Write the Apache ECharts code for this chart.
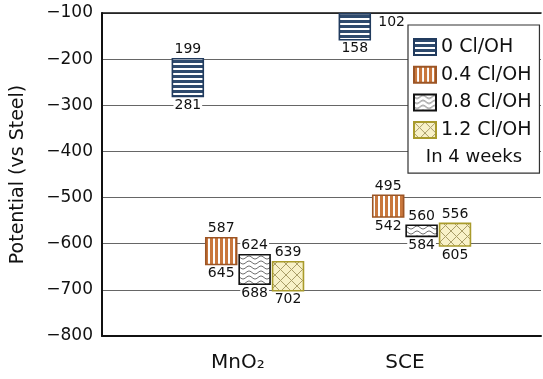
<!DOCTYPE html>
<html>
<head>
<meta charset="utf-8">
<script src="https://cdn.jsdelivr.net/npm/echarts@6/dist/echarts.min.js"></script>
<style>
html,body{margin:0;padding:0;background:#fff;}
#chart{width:543px;height:379px;}
</style>
</head>
<body>
<div id="chart"></div>
<script>
// ---- data ----
const categories = ['MnO₂', 'SCE'];
const seriesNames = ['0 Cl/OH', '0.4 Cl/OH', '0.8 Cl/OH', '1.2 Cl/OH'];
const top00 = [-199, -102];   // 0 Cl/OH, upper end
const bot00 = [-281, -158];   // 0 Cl/OH, lower end
const top04 = [-587, -495];
const bot04 = [-645, -542];
const top08 = [-624, -560];
const bot08 = [-688, -584];
const top12 = [-639, -556];
const bot12 = [-702, -605];
const yMin = -800, yMax = -100, yStep = 100;
const noteText = 'In 4 weeks';
const yTitle = 'Potential (vs Steel)';

const FONT = 'DejaVu Sans';

function makeCanvas(w, h, draw) {
  const c = document.createElement('canvas');
  c.width = w; c.height = h;
  draw(c.getContext('2d'));
  return c;
}
const patHoriz = makeCanvas(6, 5, ctx => {
  ctx.fillStyle = '#ffffff'; ctx.fillRect(0, 0, 6, 5);
  ctx.fillStyle = '#2e4a6d'; ctx.fillRect(0, 0, 6, 3);
});
const patVert = makeCanvas(5, 6, ctx => {
  ctx.fillStyle = '#ffffff'; ctx.fillRect(0, 0, 5, 6);
  ctx.fillStyle = '#c9773c'; ctx.fillRect(0, 0, 3, 6);
});
const patWave = makeCanvas(12, 5, ctx => {
  ctx.fillStyle = '#ffffff'; ctx.fillRect(0, 0, 12, 5);
  ctx.strokeStyle = '#6f6f6f'; ctx.lineWidth = 1;
  ctx.beginPath();
  for (let i = 0; i <= 12; i++) {
    const yy = 2.5 + 1.5 * Math.sin(i / 12 * Math.PI * 2);
    if (i === 0) ctx.moveTo(i, yy); else ctx.lineTo(i, yy);
  }
  ctx.stroke();
});
const patCross = makeCanvas(11, 11, ctx => {
  ctx.fillStyle = '#f8f1c8'; ctx.fillRect(0, 0, 11, 11);
  ctx.strokeStyle = '#a99d68'; ctx.lineWidth = 1;
  ctx.beginPath();
  ctx.moveTo(0, 0); ctx.lineTo(11, 11);
  ctx.moveTo(11, 0); ctx.lineTo(0, 11);
  ctx.stroke();
});

const fills = [
  { image: patHoriz, repeat: 'repeat' },
  { image: patVert, repeat: 'repeat' },
  { image: patWave, repeat: 'repeat' },
  { image: patCross, repeat: 'repeat' }
];
const borders = ['#213b5e', '#9c5525', '#111111', '#a99b2c'];
const tops = [top00, top04, top08, top12];
const bots = [bot00, bot04, bot08, bot12];

function renderItem(params, api) {
  const si = params.seriesIndex;
  const x = api.value(0);
  const t = api.value(1), b = api.value(2);
  const pT = api.coord([x, t]);
  const pB = api.coord([x, b]);
  const unit = api.size([1, 0])[0];
  const cx = pT[0] + (si - 1.5) * 0.2 * unit;
  const w = 0.185 * unit;
  const gridTop = params.coordSys.y;
  const children = [{
    type: 'rect',
    shape: { x: cx - w / 2, y: pT[1], width: w, height: pB[1] - pT[1] },
    style: { fill: fills[si], stroke: borders[si], lineWidth: 1.6 }
  }];
  const labStyle = { font: '14px "' + FONT + '"', fill: '#111', backgroundColor: '#fff', padding: [0, 1] };
  if (pT[1] - 16 < gridTop) {
    children.push({ type: 'text', z2: 5, style: Object.assign({}, labStyle, { text: String(-t), x: cx + w / 2 + 7, y: pT[1] + 1, align: 'left', verticalAlign: 'top' }) });
  } else {
    children.push({ type: 'text', z2: 5, style: Object.assign({}, labStyle, { text: String(-t), x: cx, y: pT[1] - 2, align: 'center', verticalAlign: 'bottom' }) });
  }
  children.push({ type: 'text', z2: 5, style: Object.assign({}, labStyle, { text: String(-b), x: cx, y: pB[1] + 2, align: 'center', verticalAlign: 'top' }) });
  return { type: 'group', children };
}

const series = seriesNames.map((name, si) => ({
  name,
  type: 'custom',
  renderItem,
  xAxisIndex: 0,
  yAxisIndex: 0,
  encode: { x: 0, y: [1, 2] },
  itemStyle: { color: fills[si], borderColor: borders[si], borderWidth: 1.6 },
  data: categories.map((c, ci) => [ci, tops[si][ci], bots[si][ci]]),
  z: 3
}));

const chart = echarts.init(document.getElementById('chart'), null, { renderer: 'canvas' });
chart.setOption({
  backgroundColor: '#fff',
  animation: false,
  textStyle: { fontFamily: FONT },
  grid: { left: 102, right: 2, top: 13, bottom: 43, containLabel: false },
  xAxis: [{
    type: 'value',
    min: -0.814, max: 1.815,
    axisLine: { show: true, onZero: false, lineStyle: { color: '#111', width: 2 } },
    axisTick: { show: false },
    splitLine: { show: false },
    axisLabel: {
      customValues: [0, 1],
      formatter: v => categories[Math.round(v)],
      fontFamily: FONT, fontSize: 20, color: '#111', margin: 17
    }
  }, {
    type: 'value',
    position: 'top',
    min: -0.814, max: 1.815,
    axisLine: { show: true, onZero: false, lineStyle: { color: '#111', width: 1.6 } },
    axisTick: { show: false },
    splitLine: { show: false },
    axisLabel: { show: false }
  }],
  yAxis: {
    type: 'value',
    min: yMin, max: yMax, interval: yStep,
    name: yTitle,
    nameLocation: 'middle',
    nameGap: 74,
    nameTextStyle: { fontFamily: FONT, fontSize: 19, color: '#111' },
    axisLine: { show: true, onZero: false, lineStyle: { color: '#111', width: 2 } },
    axisTick: { show: false },
    splitLine: { show: true, lineStyle: { color: '#666', width: 1.2 } },
    axisLabel: {
      formatter: v => String(v).replace('-', '−'),
      fontFamily: FONT, fontSize: 17, color: '#111', margin: 9
    }
  },
  legend: {
    orient: 'vertical',
    left: 408, top: 25,
    itemWidth: 22, itemHeight: 16, itemGap: 7.7,
    padding: [12, 8, 33, 5],
    borderColor: '#333', borderWidth: 1.2,
    backgroundColor: '#fff',
    textStyle: { fontFamily: FONT, fontSize: 19, color: '#111', lineHeight: 20 },
    data: seriesNames.map((n, i) => ({
      name: n, icon: 'rect',
      itemStyle: { color: fills[i], borderColor: borders[i], borderWidth: 2 }
    })),
    z: 10
  },
  graphic: {
    elements: [{
      type: 'text', x: 474, y: 157, z: 100,
      style: { text: noteText, align: 'center', verticalAlign: 'middle', font: '18px "' + FONT + '"', fill: '#111' }
    }]
  },
  series
});
</script>
</body>
</html>
